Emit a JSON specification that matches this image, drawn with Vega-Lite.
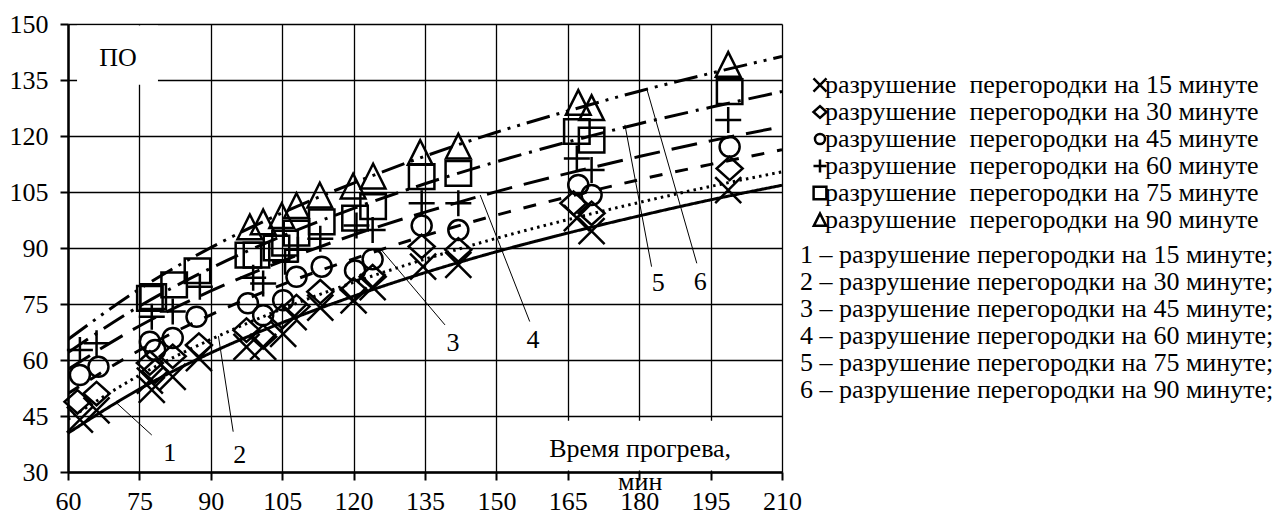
{
  "$schema": "https://vega.github.io/schema/vega-lite/v6.json",
  "width": 714,
  "height": 448,
  "autosize": {"type": "none"},
  "padding": {"left": 68, "top": 24, "right": 498, "bottom": 43},
  "background": "white",
  "config": {
    "view": {"stroke": null},
    "font": "Liberation Serif",
    "axis": {
      "grid": true, "gridColor": "#000", "gridWidth": 1.3, "gridOpacity": 1,
      "domainColor": "#000", "domainWidth": 2.5, "tickColor": "#000", "tickWidth": 2, "tickSize": 8,
      "labelFont": "Liberation Serif", "labelFontSize": 26, "labelColor": "#000",
      "title": null, "labelOverlap": false, "labelFlush": false
    },
    "legend": {"labelFont": "Liberation Serif", "labelFontSize": 26, "labelColor": "#000", "labelLimit": 0, "padding": 0, "rowPadding": 0, "clipHeight": 25, "title": null},
    "text": {"font": "Liberation Serif"}
  },
  "datasets": {
    "pts": [
      {"series": "15", "x": 62.5, "y": 44}, {"series": "15", "x": 66, "y": 46.5}, {"series": "15", "x": 77.2, "y": 54.5}, {"series": "15", "x": 77.6, "y": 52}, {"series": "15", "x": 82, "y": 55.5}, {"series": "15", "x": 87.5, "y": 60.5}, {"series": "15", "x": 97.5, "y": 63.5}, {"series": "15", "x": 101, "y": 63.5}, {"series": "15", "x": 105.2, "y": 67}, {"series": "15", "x": 107.4, "y": 71.5}, {"series": "15", "x": 113, "y": 74}, {"series": "15", "x": 120, "y": 76}, {"series": "15", "x": 124, "y": 79.5}, {"series": "15", "x": 134.6, "y": 85}, {"series": "15", "x": 142, "y": 85.5}, {"series": "15", "x": 166.9, "y": 98}, {"series": "15", "x": 170, "y": 94.5}, {"series": "15", "x": 198.7, "y": 105.5},
      {"series": "30", "x": 62, "y": 48.8}, {"series": "30", "x": 66, "y": 51}, {"series": "30", "x": 77.2, "y": 59.2}, {"series": "30", "x": 78.3, "y": 57}, {"series": "30", "x": 82, "y": 61}, {"series": "30", "x": 87.5, "y": 64}, {"series": "30", "x": 97.5, "y": 68}, {"series": "30", "x": 101, "y": 66.2}, {"series": "30", "x": 105, "y": 71.6}, {"series": "30", "x": 108, "y": 74.3}, {"series": "30", "x": 113, "y": 78.3}, {"series": "30", "x": 120, "y": 78.8}, {"series": "30", "x": 124, "y": 82.3}, {"series": "30", "x": 134.3, "y": 90.4}, {"series": "30", "x": 142, "y": 89.5}, {"series": "30", "x": 166.2, "y": 102}, {"series": "30", "x": 170, "y": 99.3}, {"series": "30", "x": 199, "y": 111.3},
      {"series": "45", "x": 62.5, "y": 56}, {"series": "45", "x": 66.4, "y": 58.2}, {"series": "45", "x": 77.2, "y": 64.9}, {"series": "45", "x": 78.3, "y": 62.7}, {"series": "45", "x": 82, "y": 65.9}, {"series": "45", "x": 87, "y": 71.6}, {"series": "45", "x": 97.8, "y": 75.2}, {"series": "45", "x": 101, "y": 72}, {"series": "45", "x": 105.2, "y": 76}, {"series": "45", "x": 108, "y": 82.3}, {"series": "45", "x": 113.3, "y": 85}, {"series": "45", "x": 120.3, "y": 84}, {"series": "45", "x": 124, "y": 87}, {"series": "45", "x": 134.3, "y": 96}, {"series": "45", "x": 142, "y": 94.8}, {"series": "45", "x": 167.2, "y": 106.9}, {"series": "45", "x": 170, "y": 104.2}, {"series": "45", "x": 199, "y": 117.1},
      {"series": "60", "x": 62.5, "y": 62.7}, {"series": "60", "x": 66, "y": 64.5}, {"series": "60", "x": 77.6, "y": 71.6}, {"series": "60", "x": 82, "y": 73}, {"series": "60", "x": 87.7, "y": 79.6}, {"series": "60", "x": 98.9, "y": 82}, {"series": "60", "x": 101, "y": 80.5}, {"series": "60", "x": 105.6, "y": 86.3}, {"series": "60", "x": 108.3, "y": 89.5}, {"series": "60", "x": 113, "y": 92.5}, {"series": "60", "x": 120.6, "y": 96}, {"series": "60", "x": 124, "y": 94.8}, {"series": "60", "x": 134.3, "y": 102}, {"series": "60", "x": 142, "y": 102}, {"series": "60", "x": 166.9, "y": 114}, {"series": "60", "x": 170, "y": 110.9}, {"series": "60", "x": 198.7, "y": 124.3},
      {"series": "75", "x": 77.2, "y": 76.5}, {"series": "75", "x": 77.9, "y": 77}, {"series": "75", "x": 82.3, "y": 80.1}, {"series": "75", "x": 87.2, "y": 83.9}, {"series": "75", "x": 97.9, "y": 88.1}, {"series": "75", "x": 99.6, "y": 88.1}, {"series": "75", "x": 103.8, "y": 90}, {"series": "75", "x": 105.6, "y": 91.3}, {"series": "75", "x": 108, "y": 94}, {"series": "75", "x": 113.3, "y": 97}, {"series": "75", "x": 120.3, "y": 98}, {"series": "75", "x": 124.1, "y": 101.1}, {"series": "75", "x": 134.3, "y": 109.1}, {"series": "75", "x": 142, "y": 110}, {"series": "75", "x": 166.9, "y": 121.2}, {"series": "75", "x": 170, "y": 118.9}, {"series": "75", "x": 199, "y": 131.9},
      {"series": "90", "x": 98.2, "y": 95.5}, {"series": "90", "x": 101, "y": 96.8}, {"series": "90", "x": 104.9, "y": 98.5}, {"series": "90", "x": 108, "y": 101.2}, {"series": "90", "x": 112.9, "y": 104}, {"series": "90", "x": 119.9, "y": 106.4}, {"series": "90", "x": 124.1, "y": 109.1}, {"series": "90", "x": 134, "y": 115.4}, {"series": "90", "x": 142, "y": 117.1}, {"series": "90", "x": 167.2, "y": 128.8}, {"series": "90", "x": 170, "y": 127.4}, {"series": "90", "x": 198.7, "y": 139}
    ],
    "lines": [
      {"line": "1", "x": 60, "y": 40.4}, {"line": "1", "x": 75, "y": 52.2}, {"line": "1", "x": 90, "y": 61.9}, {"line": "1", "x": 105, "y": 70.0}, {"line": "1", "x": 120, "y": 77.1}, {"line": "1", "x": 135, "y": 83.4}, {"line": "1", "x": 150, "y": 89.0}, {"line": "1", "x": 165, "y": 94.0}, {"line": "1", "x": 180, "y": 98.6}, {"line": "1", "x": 195, "y": 102.9}, {"line": "1", "x": 210, "y": 106.8},
      {"line": "2", "x": 60, "y": 44.1}, {"line": "2", "x": 75, "y": 55.9}, {"line": "2", "x": 90, "y": 65.5}, {"line": "2", "x": 105, "y": 73.7}, {"line": "2", "x": 120, "y": 80.8}, {"line": "2", "x": 135, "y": 87.0}, {"line": "2", "x": 150, "y": 92.6}, {"line": "2", "x": 165, "y": 97.6}, {"line": "2", "x": 180, "y": 102.2}, {"line": "2", "x": 195, "y": 106.5}, {"line": "2", "x": 210, "y": 110.4},
      {"line": "3", "x": 60, "y": 51.0}, {"line": "3", "x": 75, "y": 62.6}, {"line": "3", "x": 90, "y": 72.1}, {"line": "3", "x": 105, "y": 80.2}, {"line": "3", "x": 120, "y": 87.1}, {"line": "3", "x": 135, "y": 93.3}, {"line": "3", "x": 150, "y": 98.8}, {"line": "3", "x": 165, "y": 103.7}, {"line": "3", "x": 180, "y": 108.3}, {"line": "3", "x": 195, "y": 112.4}, {"line": "3", "x": 210, "y": 116.3},
      {"line": "4", "x": 60, "y": 57.5}, {"line": "4", "x": 75, "y": 69.1}, {"line": "4", "x": 90, "y": 78.5}, {"line": "4", "x": 105, "y": 86.5}, {"line": "4", "x": 120, "y": 93.5}, {"line": "4", "x": 135, "y": 99.6}, {"line": "4", "x": 150, "y": 105.1}, {"line": "4", "x": 165, "y": 110.0}, {"line": "4", "x": 180, "y": 114.5}, {"line": "4", "x": 195, "y": 118.7}, {"line": "4", "x": 210, "y": 122.5},
      {"line": "5", "x": 60, "y": 62.0}, {"line": "5", "x": 75, "y": 74.4}, {"line": "5", "x": 90, "y": 84.6}, {"line": "5", "x": 105, "y": 93.2}, {"line": "5", "x": 120, "y": 100.6}, {"line": "5", "x": 135, "y": 107.2}, {"line": "5", "x": 150, "y": 113.1}, {"line": "5", "x": 165, "y": 118.4}, {"line": "5", "x": 180, "y": 123.3}, {"line": "5", "x": 195, "y": 127.7}, {"line": "5", "x": 210, "y": 131.9},
      {"line": "6", "x": 60, "y": 65.5}, {"line": "6", "x": 75, "y": 79.0}, {"line": "6", "x": 90, "y": 90.1}, {"line": "6", "x": 105, "y": 99.4}, {"line": "6", "x": 120, "y": 107.4}, {"line": "6", "x": 135, "y": 114.6}, {"line": "6", "x": 150, "y": 121.0}, {"line": "6", "x": 165, "y": 126.7}, {"line": "6", "x": 180, "y": 132.0}, {"line": "6", "x": 195, "y": 136.8}, {"line": "6", "x": 210, "y": 141.3}
    ],
    "leaders": [
      {"x": 70.2, "y": 48.5, "x2": 77.6, "y2": 39.9},
      {"x": 91.6, "y": 66.4, "x2": 94.7, "y2": 40.8},
      {"x": 125.5, "y": 90, "x2": 139.2, "y2": 69.4},
      {"x": 146.6, "y": 104.2, "x2": 157, "y2": 70.3},
      {"x": 177, "y": 123, "x2": 182.6, "y2": 85},
      {"x": 181.6, "y": 132.6, "x2": 192.1, "y2": 85.9}
    ],
    "labels": [
      {"t": "1", "x": 81.4, "y": 35.1},
      {"t": "2", "x": 96.1, "y": 34.6},
      {"t": "3", "x": 140.9, "y": 64.6},
      {"t": "4", "x": 157.7, "y": 65.4},
      {"t": "5", "x": 184, "y": 80.6},
      {"t": "6", "x": 192.8, "y": 80.9},
      {"t": "ПО", "x": 70.5, "y": 140.9},
      {"t": "Время прогрева,", "x": 180.2, "y": 36.2},
      {"t": "мин", "x": 180.2, "y": 27.3}
    ],
    "boxes": [
      {"x": 61.9, "x2": 78.9, "y": 133.7, "y2": 149.6},
      {"x": 156, "x2": 208.5, "y": 30.4, "y2": 43.7}
    ]
  },
  "encoding": {
    "x": {"field": "x", "type": "quantitative", "scale": {"domain": [60, 210], "nice": false, "zero": false},
          "axis": {"values": [60, 75, 90, 105, 120, 135, 150, 165, 180, 195, 210], "labelPadding": 8}},
    "y": {"field": "y", "type": "quantitative", "scale": {"domain": [30, 150], "nice": false, "zero": false},
          "axis": {"values": [30, 45, 60, 75, 90, 105, 120, 135, 150], "labelPadding": 12}}
  },
  "layer": [
    {
      "data": {"name": "boxes"},
      "mark": {"type": "rect", "fill": "white", "stroke": null},
      "encoding": {"x2": {"field": "x2"}, "y2": {"field": "y2"}}
    },
    {
      "data": {"name": "lines"},
      "mark": {"type": "line", "color": "black", "strokeWidth": 3, "interpolate": "monotone", "strokeCap": "butt", "clip": true},
      "encoding": {
        "strokeDash": {"field": "line", "type": "nominal",
          "scale": {"domain": ["1", "2", "3", "4", "5", "6"], "range": [[1, 0], [2.5, 4.2], [13, 13], [26, 12], [24, 8, 3, 8], [24, 7, 3, 7, 3, 7]]},
          "legend": {"orient": "none", "legendX": 706, "legendY": 218.5, "symbolSize": 0, "symbolStrokeWidth": 0, "symbolOpacity": 0, "symbolOffset": 0, "labelOffset": 0,
            "labelExpr": "datum.label + ' – разрушение перегородки на ' + (toNumber(datum.label) * 15) + ' минуте;'"}}
      }
    },
    {
      "data": {"name": "pts"},
      "mark": {"type": "point", "filled": false, "color": "black", "size": 676, "opacity": 1},
      "encoding": {
        "shape": {"field": "series", "type": "nominal",
          "scale": {"domain": ["15", "30", "45", "60", "75", "90"],
            "range": ["M-1,-1L1,1M-1,1L1,-1", "M0,-0.9L1,0L0,0.9L-1,0Z", "M0.77,0A0.77,0.77,0,1,1,-0.77,0A0.77,0.77,0,1,1,0.77,0Z", "M-1,0L1,0M0,-1L0,1", "M-0.98,-0.95L0.98,-0.95L0.98,0.95L-0.98,0.95Z", "M0,-1L-0.95,0.9L0.95,0.9Z"]},
          "legend": {"orient": "none", "legendX": 739, "legendY": 48.5, "symbolSize": 170, "labelOffset": -8, "symbolStrokeColor": "black",
            "labelExpr": "'разрушение\u00a0 перегородки на ' + datum.label + ' минуте'"}},
        "strokeWidth": {"field": "series", "type": "nominal",
          "scale": {"domain": ["15", "30", "45", "60", "75", "90"], "range": [2.5, 2.5, 2.5, 1.3, 3, 1.2]}}
      }
    },
    {
      "data": {"name": "leaders"},
      "mark": {"type": "rule", "color": "black", "strokeWidth": 1},
      "encoding": {"x2": {"field": "x2"}, "y2": {"field": "y2"}}
    },
    {
      "data": {"name": "labels"},
      "mark": {"type": "text", "fontSize": 26, "color": "black", "align": "center", "baseline": "middle"},
      "encoding": {"text": {"field": "t"}}
    }
  ]
}
